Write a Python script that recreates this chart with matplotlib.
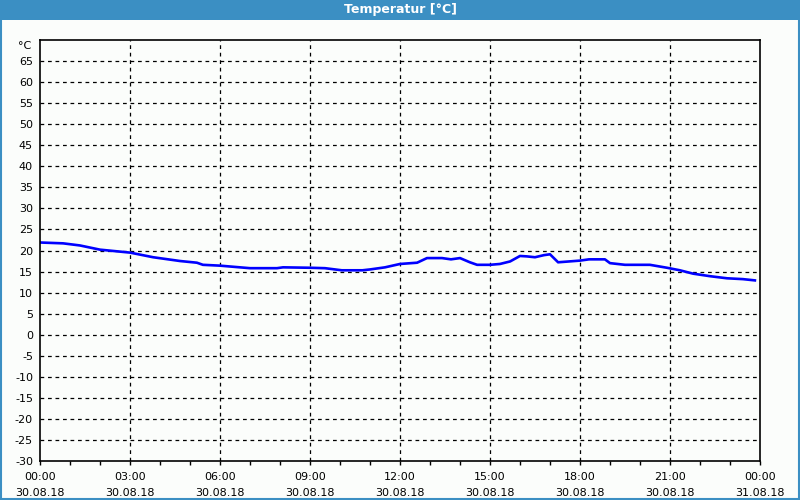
import numpy as np
import matplotlib.pyplot as plt
from matplotlib.patches import Rectangle

# hours since 30.08.18 00:00 and temperature in degC
hours = [0.0, 0.77, 1.33, 2.0, 3.0, 3.77, 4.67, 5.23, 5.43, 6.0, 7.0, 7.9, 8.1,
         9.0, 9.5, 10.06, 10.75, 11.0, 11.5, 12.0, 12.57, 12.9, 13.4, 13.7, 14.0,
         14.33, 14.57, 15.0, 15.33, 15.67, 16.0, 16.23, 16.5, 16.8, 17.0, 17.27,
         18.0, 18.3, 18.83, 19.0, 19.5, 20.33, 20.9, 21.33, 21.77, 22.33, 22.9,
         23.43, 23.83]
temps = [21.9, 21.7, 21.2, 20.2, 19.5, 18.4, 17.5, 17.1, 16.6, 16.4, 15.8, 15.8, 16.0,
         15.9, 15.8, 15.3, 15.3, 15.5, 16.0, 16.8, 17.1, 18.2, 18.2, 17.9, 18.2,
         17.2, 16.6, 16.6, 16.8, 17.4, 18.7, 18.6, 18.4, 18.9, 19.1, 17.2,
         17.6, 17.9, 17.9, 17.0, 16.6, 16.6, 15.9, 15.3, 14.5, 13.9, 13.4,
         13.2, 12.9]

x_labels = ["00:00\n30.08.18", "03:00\n30.08.18", "06:00\n30.08.18", "09:00\n30.08.18",
            "12:00\n30.08.18", "15:00\n30.08.18", "18:00\n30.08.18", "21:00\n30.08.18",
            "00:00\n31.08.18"]
y_ticks = list(range(-30, 70, 5))

blue = '#3b8fc3'
bg = '#fbfdfb'

fig = plt.figure(figsize=(8, 5), dpi=100, facecolor=bg)

# title bar and window border
fig.patches.append(Rectangle((0, 0.96), 1, 0.04, transform=fig.transFigure,
                             facecolor=blue, edgecolor='none'))
fig.patches.append(Rectangle((0.001, 0.002), 0.998, 0.99, transform=fig.transFigure,
                             facecolor='none', edgecolor=blue, linewidth=1.5))
fig.text(0.5, 0.98, "Temperatur [°C]", color='white', fontsize=9, fontweight='bold',
         ha='center', va='center')

ax = fig.add_axes([0.05, 0.078, 0.90, 0.842])
ax.set_facecolor(bg)
ax.plot(hours, temps, color='#0000ff', linewidth=1.9)

ax.set_xlim(0, 24)
ax.set_ylim(-30, 70)

ax.set_xticks(np.arange(0, 25, 3))
ax.set_xticklabels(x_labels, fontsize=8, linespacing=1.7)
ax.set_xticks(np.arange(0, 25, 1), minor=True)
ax.tick_params(axis='x', which='both', length=3, width=1, direction='out', pad=5)

ax.set_yticks(y_ticks)
ax.set_yticklabels([str(v) for v in y_ticks], fontsize=8)
ax.tick_params(axis='y', length=0, pad=5)
ax.text(-0.012, 0.985, "°C", transform=ax.transAxes, fontsize=8, ha='right', va='center')

for v in y_ticks[1:]:
    ax.axhline(v, color='black', linestyle=(0, (3, 3)), linewidth=0.9, zorder=0)
for h in range(3, 24, 3):
    ax.axvline(h, color='black', linestyle=(0, (3, 3)), linewidth=0.9, zorder=0)

for s in ax.spines.values():
    s.set_linewidth(1.2)

plt.savefig('out.png', dpi=100, facecolor=bg)
